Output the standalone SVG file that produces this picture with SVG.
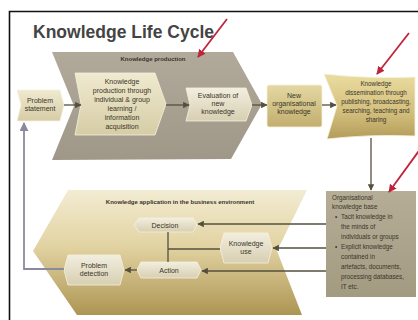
<svg xmlns="http://www.w3.org/2000/svg" width="418" height="320" viewBox="0 0 418 320">
  <defs>
    <linearGradient id="gGrey" x1="0" y1="0" x2="0" y2="1">
      <stop offset="0" stop-color="#b1a99a"/>
      <stop offset="1" stop-color="#9f9788"/>
    </linearGradient>
    <linearGradient id="gCream" x1="0" y1="0" x2="0" y2="1">
      <stop offset="0" stop-color="#efe9cf"/>
      <stop offset="1" stop-color="#d6cda6"/>
    </linearGradient>
    <linearGradient id="gGold" x1="0" y1="0" x2="0" y2="1">
      <stop offset="0" stop-color="#e4d8a2"/>
      <stop offset="1" stop-color="#c2ae6e"/>
    </linearGradient>
    <linearGradient id="gGoldDeep" x1="0" y1="0" x2="0" y2="1">
      <stop offset="0" stop-color="#eadca0"/>
      <stop offset="0.6" stop-color="#d2be7c"/>
      <stop offset="1" stop-color="#b39c5a"/>
    </linearGradient>
    <linearGradient id="gBase" x1="0" y1="0" x2="0" y2="1">
      <stop offset="0" stop-color="#b6ad97"/>
      <stop offset="1" stop-color="#a39a82"/>
    </linearGradient>
    <linearGradient id="gApp" x1="0" y1="0" x2="0" y2="1">
      <stop offset="0" stop-color="#f3ecd3"/>
      <stop offset="0.45" stop-color="#e2d3a2"/>
      <stop offset="1" stop-color="#ad9553"/>
    </linearGradient>
    <linearGradient id="gSmall" x1="0" y1="0" x2="0" y2="1">
      <stop offset="0" stop-color="#f2eedf"/>
      <stop offset="1" stop-color="#d7cfb2"/>
    </linearGradient>
    <marker id="arr" viewBox="0 0 10 10" refX="9" refY="5" markerWidth="5" markerHeight="5" orient="auto">
      <path d="M0,0 L10,5 L0,10 Z" fill="#55503e"/>
    </marker>
    <marker id="arrLoop" viewBox="0 0 10 10" refX="9" refY="5" markerWidth="5" markerHeight="5" orient="auto">
      <path d="M0,0 L10,5 L0,10 Z" fill="#8a8a9c"/>
    </marker>
    <marker id="arrRed" viewBox="0 0 10 10" refX="9" refY="5" markerWidth="4.5" markerHeight="4.5" orient="auto">
      <path d="M0,0 L10,5 L0,10 Z" fill="#c0243d"/>
    </marker>
  </defs>
  <style>
    text { font-family: "Liberation Sans", Arial, sans-serif; fill: #3a3528; }
    .lbl { font-size: 7px; text-anchor: middle; }
    .hdr { font-size: 6px; font-weight: bold; text-anchor: middle; }
    .kb { font-size: 6.3px; }
    .conn { stroke: #55503e; stroke-width: 1.3; fill: none; }
    .loop { stroke: #8a8a9c; stroke-width: 1.8; fill: none; }
    .red { stroke: #c0243d; stroke-width: 1.8; fill: none; }
    .box { stroke: #f6f1de; stroke-width: 0.8; }
  </style>

  <rect width="418" height="320" fill="#ffffff"/>
  <!-- frame: only the top and left edges fall inside the view -->
  <path d="M9.5,320 L9.5,11.5 L418,11.5" fill="none" stroke="#111111" stroke-width="1.6"/>

  <text x="33" y="38" font-size="17.5" font-weight="bold" textLength="181" style="fill:#444444">Knowledge Life Cycle</text>

  <!-- knowledge production stage -->
  <g id="stage-production">
    <polygon points="52,52 233,52 262,104 231,159 52,160 74,106" fill="url(#gGrey)"/>
    <text class="hdr" x="153" y="61">Knowledge production</text>
  </g>

  <!-- knowledge application stage -->
  <g id="stage-application">
    <polygon points="68,190 307,190 277,251 302,315 77,315 33,251" fill="url(#gApp)"/>
    <text class="hdr" x="180" y="204">Knowledge application in the business environment</text>
  </g>

  <g id="problem-statement">
    <polygon class="box" points="17,90 60,90 64,105 60,121 17,121 21,105" fill="url(#gCream)"/>
    <text class="lbl" x="40" y="103">Problem</text>
    <text class="lbl" x="40" y="111">statement</text>
  </g>

  <g id="knowledge-production">
    <polygon class="box" points="75,73 155,73 166,104 155,135 75,135 81,104" fill="url(#gCream)"/>
    <text class="lbl" x="122" y="84">Knowledge</text>
    <text class="lbl" x="122" y="93">production through</text>
    <text class="lbl" x="122" y="102">individual &amp; group</text>
    <text class="lbl" x="122" y="111">learning /</text>
    <text class="lbl" x="122" y="120">information</text>
    <text class="lbl" x="122" y="129">acquisition</text>
  </g>

  <g id="evaluation">
    <polygon class="box" points="186,88 246,88 252,105 246,121 186,121 190,105" fill="url(#gSmall)"/>
    <text class="lbl" x="218" y="98">Evaluation of</text>
    <text class="lbl" x="218" y="106">new</text>
    <text class="lbl" x="218" y="114">knowledge</text>
  </g>

  <g id="new-knowledge">
    <rect class="box" x="267" y="85" width="55" height="42" rx="2" fill="url(#gGold)"/>
    <text class="lbl" x="294" y="98">New</text>
    <text class="lbl" x="294" y="106">organisational</text>
    <text class="lbl" x="294" y="114">knowledge</text>
  </g>

  <g id="dissemination">
    <path class="box" d="M324,74 Q370,79 415,77 L415,136 Q370,134 327,139 L337,106 Z" fill="url(#gGoldDeep)"/>
    <text class="lbl" x="376" y="86" style="font-size:6.3px">Knowledge</text>
    <text class="lbl" x="376" y="95" style="font-size:6.3px">dissemination through</text>
    <text class="lbl" x="376" y="104" style="font-size:6.3px">publishing, broadcasting,</text>
    <text class="lbl" x="376" y="113" style="font-size:6.3px">searching, teaching and</text>
    <text class="lbl" x="376" y="122" style="font-size:6.3px">sharing</text>
  </g>

  <g id="knowledge-base">
    <rect x="326" y="191" width="90" height="106" fill="url(#gBase)"/>
    <text class="kb" x="332" y="200">Organisational</text>
    <text class="kb" x="332" y="209">knowledge base</text>
    <text class="kb" x="335" y="219">•</text>
    <text class="kb" x="341" y="219">Tacit knowledge in</text>
    <text class="kb" x="341" y="229">the minds of</text>
    <text class="kb" x="341" y="239">individuals or groups</text>
    <text class="kb" x="335" y="249">•</text>
    <text class="kb" x="341" y="249">Explicit knowledge</text>
    <text class="kb" x="341" y="259">contained in</text>
    <text class="kb" x="341" y="269">artefacts, documents,</text>
    <text class="kb" x="341" y="279">processing databases,</text>
    <text class="kb" x="341" y="289">IT etc.</text>
  </g>

  <g id="decision">
    <polygon class="box" points="139,218 193,218 197,225 193,232 139,232 134,225" fill="url(#gSmall)"/>
    <text class="lbl" x="165" y="228">Decision</text>
  </g>

  <g id="knowledge-use">
    <polygon class="box" points="224,233 268,233 272,248 268,263 224,263 220,248" fill="url(#gSmall)"/>
    <text class="lbl" x="246" y="246">Knowledge</text>
    <text class="lbl" x="246" y="254">use</text>
  </g>

  <g id="action">
    <polygon class="box" points="141,262 197,262 201,270 197,278 141,278 137,270" fill="url(#gSmall)"/>
    <text class="lbl" x="169" y="273">Action</text>
  </g>

  <g id="problem-detection">
    <polygon class="box" points="68,255 120,255 124,270 120,285 68,285 64,270" fill="url(#gSmall)"/>
    <text class="lbl" x="94" y="268">Problem</text>
    <text class="lbl" x="94" y="276">detection</text>
  </g>

  <g id="connectors">
    <polyline class="loop" points="64,269 24,269 24,123" marker-end="url(#arrLoop)"/>
    <line class="conn" x1="64" y1="105" x2="81" y2="105" marker-end="url(#arr)"/>
    <line class="conn" x1="166" y1="105" x2="189" y2="105" marker-end="url(#arr)"/>
    <line class="conn" x1="252" y1="105" x2="267" y2="105" marker-end="url(#arr)"/>
    <line class="conn" x1="322" y1="105" x2="336" y2="105" marker-end="url(#arr)"/>
    <line class="conn" x1="371" y1="138" x2="371" y2="190" marker-end="url(#arr)"/>
    <line class="conn" x1="326" y1="224" x2="198" y2="224" marker-end="url(#arr)"/>
    <line class="conn" x1="326" y1="248" x2="273" y2="248" marker-end="url(#arr)"/>
    <line class="conn" x1="326" y1="271" x2="202" y2="271" marker-end="url(#arr)"/>
    <line class="conn" x1="168" y1="232" x2="168" y2="262"/>
    <line class="conn" x1="168" y1="249" x2="220" y2="249"/>
    <line class="conn" x1="137" y1="270" x2="125" y2="270" marker-end="url(#arr)"/>
  </g>

  <g id="highlights">
    <line class="red" x1="227" y1="19" x2="198" y2="57" marker-end="url(#arrRed)"/>
    <line class="red" x1="409" y1="33" x2="377" y2="74" marker-end="url(#arrRed)"/>
    <line class="red" x1="421" y1="148" x2="389" y2="192" marker-end="url(#arrRed)"/>
  </g>
</svg>
